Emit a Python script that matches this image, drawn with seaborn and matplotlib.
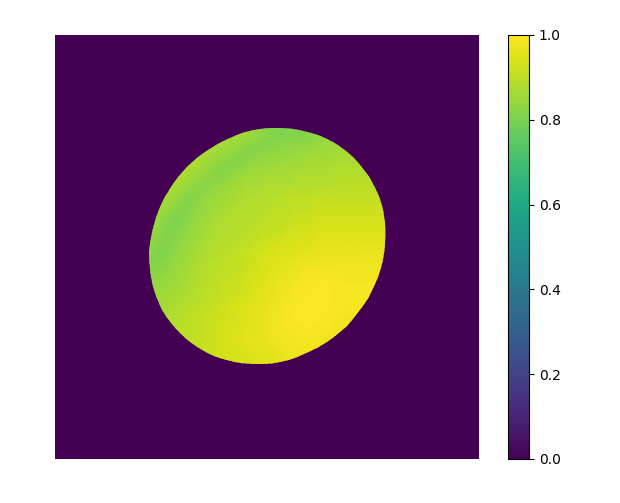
import numpy as np
import matplotlib
matplotlib.use("Agg")
import matplotlib.pyplot as plt
import seaborn as sns
from matplotlib.patches import PathPatch
from matplotlib.path import Path

# values, grid nodes 9..33 in both directions
disc_values = [
    [.88, .88, .88, .88, .88, .88, .88, .88, .87, .86, .85, .84, .82, .81, .81, .81, .82, .83, .84, .85, .85, .85, .85, .85, .85],
    [.88, .88, .88, .88, .88, .88, .88, .88, .87, .86, .85, .84, .82, .81, .81, .81, .82, .83, .84, .85, .85, .85, .85, .85, .85],
    [.88, .88, .88, .88, .88, .88, .88, .87, .86, .85, .83, .82, .82, .83, .83, .84, .84, .85, .85, .86, .86, .86, .86, .86, .86],
    [.88, .88, .88, .88, .88, .88, .87, .85, .84, .82, .82, .83, .84, .84, .85, .85, .86, .86, .86, .87, .87, .87, .87, .87, .87],
    [.88, .88, .88, .88, .88, .87, .85, .83, .82, .82, .84, .85, .85, .86, .86, .86, .87, .87, .87, .88, .88, .88, .88, .88, .88],
    [.88, .88, .88, .88, .87, .85, .83, .82, .83, .85, .86, .86, .87, .87, .87, .88, .88, .88, .88, .89, .89, .89, .89, .89, .89],
    [.88, .88, .88, .87, .85, .83, .82, .84, .85, .86, .87, .87, .88, .88, .88, .89, .89, .89, .89, .90, .90, .90, .90, .90, .90],
    [.88, .88, .87, .85, .82, .82, .84, .85, .86, .87, .88, .88, .89, .89, .90, .90, .90, .91, .91, .91, .91, .91, .91, .91, .91],
    [.87, .87, .85, .83, .81, .83, .85, .86, .87, .88, .88, .89, .89, .90, .90, .91, .91, .92, .92, .92, .92, .92, .92, .92, .92],
    [.87, .85, .83, .81, .82, .84, .85, .87, .88, .88, .89, .89, .90, .91, .91, .92, .92, .93, .93, .93, .93, .93, .93, .93, .93],
    [.86, .84, .82, .81, .83, .85, .86, .88, .88, .89, .89, .90, .91, .91, .92, .93, .93, .94, .94, .94, .94, .94, .94, .94, .94],
    [.85, .83, .81, .82, .84, .85, .87, .88, .89, .89, .90, .91, .92, .92, .93, .94, .94, .95, .95, .95, .95, .95, .95, .95, .95],
    [.84, .82, .81, .83, .85, .86, .88, .89, .89, .90, .91, .92, .93, .94, .94, .95, .95, .96, .96, .96, .96, .96, .96, .96, .96],
    [.83, .81, .82, .84, .85, .87, .88, .89, .90, .91, .92, .93, .94, .95, .95, .96, .96, .97, .97, .97, .97, .97, .97, .97, .97],
    [.83, .82, .83, .85, .86, .88, .89, .90, .91, .91, .92, .93, .95, .95, .96, .97, .98, .98, .98, .98, .98, .98, .98, .98, .98],
    [.84, .83, .84, .85, .87, .88, .89, .90, .91, .92, .93, .94, .95, .96, .97, .98, .99, .99, .99, .99, .98, .98, .98, .98, .98],
    [.85, .84, .85, .86, .87, .89, .90, .91, .92, .92, .93, .95, .96, .97, .98, .99, .99, 1.0, 1.0, .99, .99, .99, .99, .99, .99],
    [.86, .86, .86, .87, .88, .89, .90, .91, .92, .93, .94, .95, .96, .97, .98, .99, 1.0, 1.0, 1.0, .99, .99, .99, .99, .99, .99],
    [.87, .87, .87, .88, .89, .90, .91, .92, .93, .94, .95, .96, .97, .98, .99, 1.0, 1.0, 1.0, 1.0, .99, .99, .99, .99, .99, .99],
    [.88, .88, .88, .89, .90, .91, .92, .92, .93, .94, .95, .96, .97, .98, .99, 1.0, 1.0, 1.0, .99, .99, .98, .98, .98, .98, .98],
    [.88, .88, .89, .89, .90, .91, .92, .93, .94, .94, .95, .96, .97, .98, .99, .99, 1.0, .99, .99, .98, .98, .98, .98, .98, .98],
    [.88, .88, .89, .90, .90, .91, .92, .93, .94, .95, .96, .96, .97, .98, .98, .99, .99, .99, .98, .98, .97, .97, .97, .97, .97],
    [.88, .88, .89, .90, .90, .91, .92, .93, .94, .94, .95, .96, .96, .97, .98, .98, .98, .98, .97, .97, .97, .97, .97, .97, .97],
    [.88, .88, .89, .90, .90, .91, .92, .92, .93, .94, .94, .95, .95, .96, .97, .97, .97, .97, .97, .97, .97, .97, .97, .97, .97],
    [.88, .88, .89, .90, .90, .91, .92, .92, .93, .94, .94, .95, .95, .96, .97, .97, .97, .97, .97, .97, .97, .97, .97, .97, .97],
]

# edge of the disc in grid units
edge_col = [29.68, 31.42, 32.46, 32.71, 32.18, 30.88, 28.91, 26.40, 23.52, 20.48, 17.47, 14.71,
            12.37, 10.63, 9.59, 9.34, 9.88, 11.17, 13.15, 15.65, 18.53, 21.57, 24.58, 27.34]
edge_row = [12.25, 14.59, 17.35, 20.36, 23.40, 26.27, 28.78, 30.75, 32.05, 32.59, 32.33, 31.30,
            29.55, 27.22, 24.45, 21.45, 18.40, 15.53, 13.02, 11.05, 9.75, 9.21, 9.47, 10.51]

colorbar_ticks = [0.0, 0.2, 0.4, 0.6, 0.8, 1.0]

W, H = 620, 503
fig = plt.figure(figsize=(W / 100, H / 100), dpi=100)
ax = fig.add_axes([55 / W, 1 - 459 / H, 424 / W, 424 / H])
cax = fig.add_axes([508 / W, 1 - 459 / H, 21 / W, 424 / H])

grid = np.pad(np.array(disc_values), 9)
ax.set_facecolor(plt.get_cmap("viridis")(0.0))
sns.heatmap(grid, ax=ax, cmap="viridis", vmin=0, vmax=1, cbar_ax=cax,
            xticklabels=False, yticklabels=False, shading="gouraud")
ax.set_xlim(0, 42)
ax.set_ylim(42, 0)

# round outline through the edge points, bezier segments
pts = np.column_stack([edge_col, edge_row])
verts = [pts[0]]
codes = [Path.MOVETO]
for i in range(len(pts)):
    p0, p1, p2, p3 = pts[i - 1], pts[i], pts[(i + 1) % len(pts)], pts[(i + 2) % len(pts)]
    verts += [p1 + (p2 - p0) / 6, p2 - (p3 - p1) / 6, p2]
    codes += [Path.CURVE4] * 3

# only the disc is filled, the rest stays at 0
mesh = ax.collections[0]
outline = PathPatch(Path(verts, codes), transform=ax.transData)
mesh.set_clip_path(outline)

cbar = mesh.colorbar
cbar.set_ticks(colorbar_ticks)
cbar.outline.set_linewidth(0.8)
cbar.outline.set_edgecolor("black")
cbar.ax.tick_params(labelsize=10, length=3.5, width=0.8)

fig.savefig("out.png", dpi=100)
